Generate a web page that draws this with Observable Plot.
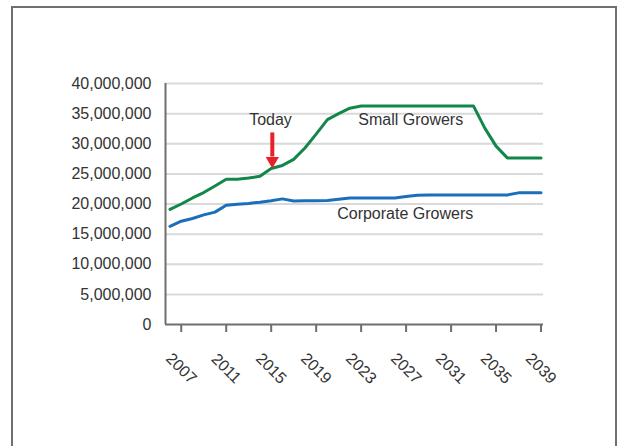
<!DOCTYPE html>
<html>
<head>
<meta charset="utf-8">
<script src="https://cdn.jsdelivr.net/npm/d3@7"></script>
<script src="https://cdn.jsdelivr.net/npm/@observablehq/plot@0.6"></script>
<style>
  html, body { margin: 0; padding: 0; background: #fff; overflow: hidden; width: 617px; height: 446px; }
  #frame { position: absolute; left: 11px; top: 6px; width: 606px; height: 600px; border: 2px solid #707070; box-sizing: border-box; }
  #chart { position: absolute; left: 0; top: 0; }
  #chart svg [aria-label^="x-axis"] path, #chart svg [aria-label^="x-axis"] line { stroke-width: 2px; }
</style>
</head>
<body>
<div id="frame"></div>
<div id="chart"></div>
<script>
const years = [2006, 2007, 2008, 2009, 2010, 2011, 2012, 2013, 2014, 2015, 2016, 2017,
  2018, 2019, 2020, 2021, 2022, 2023, 2024, 2025, 2026, 2027, 2028, 2029, 2030, 2031,
  2032, 2033, 2034, 2035, 2036, 2037, 2038, 2039];
const smallGrowers = [19.1, 20.0, 21.0, 21.9, 23.0, 24.1, 24.1, 24.3, 24.6, 25.9, 26.4, 27.4,
  29.3, 31.6, 34.0, 35.0, 35.9, 36.25, 36.25, 36.25, 36.25, 36.25, 36.25, 36.25, 36.25, 36.25,
  36.25, 36.25, 32.6, 29.6, 27.65, 27.65, 27.65, 27.65];
const corporateGrowers = [16.3, 17.15, 17.6, 18.2, 18.65, 19.8, 19.95, 20.1, 20.3, 20.55, 20.85, 20.5,
  20.55, 20.55, 20.6, 20.8, 21.0, 21.0, 21.0, 21.0, 21.0, 21.25, 21.45, 21.5, 21.5, 21.5,
  21.5, 21.5, 21.5, 21.5, 21.5, 21.85, 21.85, 21.85];
const xTickYears = [2007, 2011, 2015, 2019, 2023, 2027, 2031, 2035, 2039];
const yTicks = [0, 5000000, 10000000, 15000000, 20000000, 25000000, 30000000, 35000000, 40000000];
const xDomain = [2005.6, 2039.22];
const yDomain = [0, 40000000];

const labels = [
  {text: "Today", year: 2014.94, value: 34.0e6},
  {text: "Small Growers", year: 2027.41, value: 34.0e6},
  {text: "Corporate Growers", year: 2026.92, value: 18.4e6}
];
const todayArrow = {year: 2015.1, from: 31.8e6, to: 27.8e6, head: 27.17e6};

const smallData = years.map((y, i) => ({year: y, value: smallGrowers[i] * 1e6}));
const corpData = years.map((y, i) => ({year: y, value: corporateGrowers[i] * 1e6}));

const font = "'Liberation Sans', Arial, Helvetica, sans-serif";
const fmt = d3.format(",");
const fs = 16;

const chart = Plot.plot({
  width: 617,
  height: 446,
  marginLeft: 165,
  marginRight: 74,
  marginTop: 83,
  marginBottom: 122,
  style: {background: "transparent", fontFamily: font, fontSize: fs + "px", color: "#6e6e6e"},
  x: {domain: xDomain, ticks: xTickYears, tickSize: 8, tickFormat: () => "", label: null, line: false},
  y: {domain: yDomain, axis: null},
  marks: [
    Plot.ruleY(yTicks.slice(1), {stroke: "#d9d9d9", strokeWidth: 2}),
    Plot.ruleY([0], {stroke: "#6e6e6e", strokeWidth: 2}),
    Plot.ruleX([xDomain[0]], {y1: yDomain[0], y2: yDomain[1], stroke: "#6e6e6e", strokeWidth: 2}),
    Plot.text(yTicks, {y: d => d, frameAnchor: "left", dx: -14, textAnchor: "end", text: d => fmt(d),
      fill: "#333", fontSize: fs}),
    Plot.text(xTickYears, {x: d => d, frameAnchor: "bottom", dy: 44, rotate: 45, textAnchor: "middle",
      lineAnchor: "middle", text: d => String(d), fill: "#333", fontSize: fs}),
    Plot.line(smallData, {x: "year", y: "value", stroke: "#12874a", strokeWidth: 3, strokeLinejoin: "round"}),
    Plot.line(corpData, {x: "year", y: "value", stroke: "#1a6fba", strokeWidth: 3, strokeLinejoin: "round"}),
    Plot.ruleX([todayArrow], {x: "year", y1: "from", y2: "to", stroke: "#e8202a", strokeWidth: 4}),
    Plot.dot([todayArrow], {x: "year", y: "head", symbol: "triangle", rotate: 180, r: 4.9, fill: "#e8202a", stroke: "none"}),
    Plot.text(labels, {x: "year", y: "value", text: "text", fill: "#333", fontSize: fs, lineAnchor: "middle"})
  ]
});
document.getElementById("chart").appendChild(chart);
</script>
</body>
</html>
